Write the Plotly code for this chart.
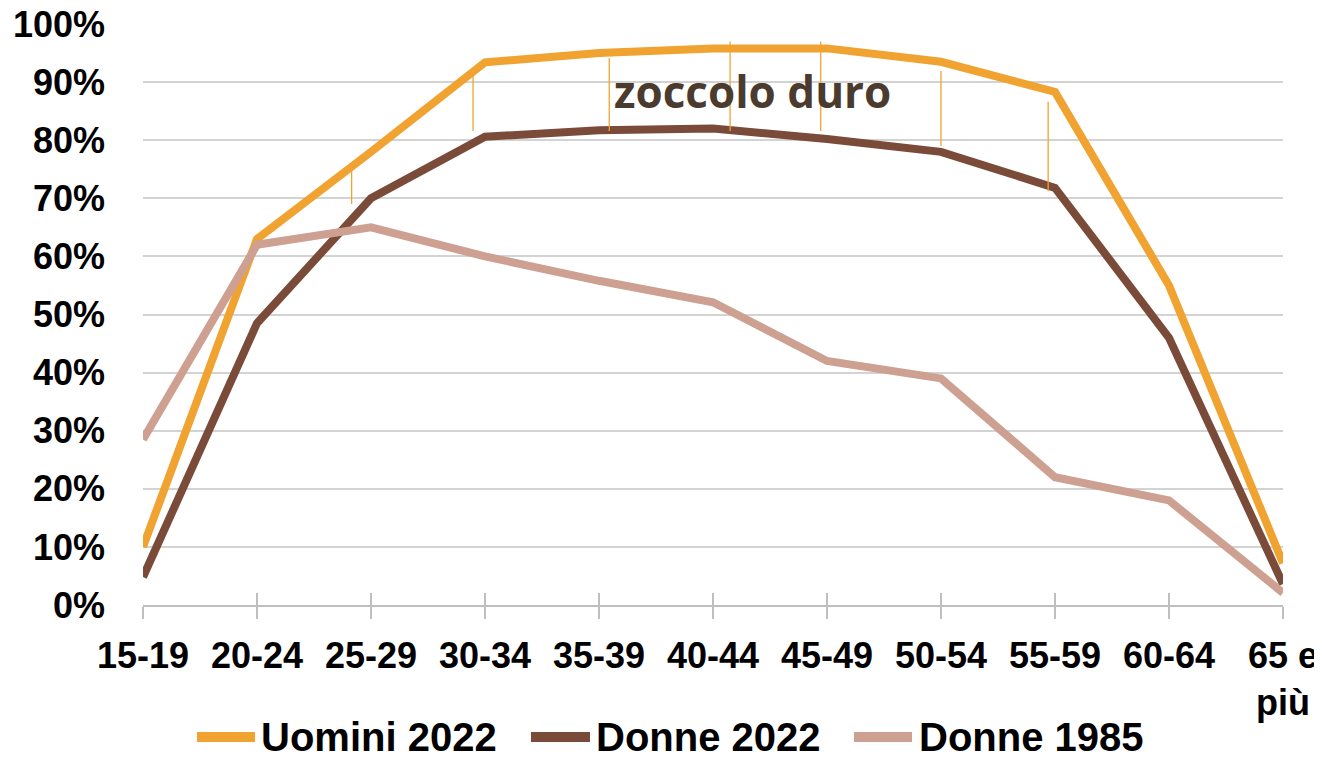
import plotly.graph_objects as go

# age groups and activity rates (%)
age_groups = ["15-19", "20-24", "25-29", "30-34", "35-39", "40-44",
              "45-49", "50-54", "55-59", "60-64", "65 e<br>più"]
uomini_2022 = [10, 63, 78, 93.4, 95, 95.8, 95.8, 93.5, 88.3, 55, 7.2]
donne_2022 = [4.8, 48.5, 70, 80.6, 81.7, 82, 80.2, 78, 71.8, 46, 3.6]
donne_1985 = [28.5, 62, 65, 60, 55.8, 52.1, 42, 39, 22, 18, 2.1]

series_names = ["Uomini 2022", "Donne 2022", "Donne 1985"]
series_colors = ["#F0A330", "#7B4B3A", "#CDA091"]

# thin "zoccolo duro" markers (position on the age axis, top, bottom in %)
seg_pos = [1.83, 2.895, 4.09, 5.15, 5.945, 7.0, 7.94]
seg_top = [75.2, 91.0, 94.1, 97.0, 97.0, 91.9, 86.6]
seg_bottom = [69.0, 81.6, 81.6, 81.6, 81.6, 79.0, 71.2]

FONT = "Liberation Sans, Arial, sans-serif"

# the page body has an 8px margin, so the figure is drawn smaller
OFF = 8
W, H = 1322 - OFF, 760 - OFF
# plot area in page pixels (from the reference)
L, R, T, B = 143, 1283, 24, 605


def px(x):
    return (x - L) / (R - L)


def py(y):
    return (B - y) / (B - T)


fig = go.Figure()

for name, vals, col in zip(series_names, [uomini_2022, donne_2022, donne_1985], series_colors):
    fig.add_trace(go.Scatter(x=age_groups, y=vals, name=name, mode="lines",
                             line=dict(color=col, width=8), showlegend=False))

seg_x, seg_y = [], []
for p, t, b in zip(seg_pos, seg_top, seg_bottom):
    seg_x += [p, p, None]
    seg_y += [t, b, None]
fig.add_trace(go.Scatter(x=seg_x, y=seg_y, mode="lines", xaxis="x2",
                         line=dict(color="#F0A330", width=1.3),
                         hoverinfo="skip", showlegend=False))

# legend drawn by hand so the sample lines are long like the original
leg_line = [(197, 255), (531, 590), (854, 912)]
leg_text = [259, 594, 917]
leg_y = 737
shapes = []
annotations = []
for (x0, x1), tx, name, col in zip(leg_line, leg_text, series_names, series_colors):
    shapes.append(dict(type="line", xref="paper", yref="paper",
                       x0=px(x0), x1=px(x1), y0=py(leg_y), y1=py(leg_y),
                       line=dict(color=col, width=10)))
    annotations.append(dict(xref="paper", yref="paper", x=px(tx), y=py(leg_y),
                            xanchor="left", yanchor="middle", showarrow=False,
                            text=name, font=dict(family=FONT, size=40, color="#000000", weight="bold")))

annotations.append(dict(xref="paper", yref="paper", x=px(752), y=py(91),
                        xanchor="center", yanchor="middle", showarrow=False,
                        text="zoccolo duro",
                        font=dict(family="Open Sans", size=44, color="#4B3B2F", weight="bold")))

fig.update_layout(
    width=W, height=H,
    margin=dict(l=L - OFF, r=1322 - R, t=T - OFF, b=H - (B - OFF)),
    plot_bgcolor="white", paper_bgcolor="white",
    shapes=shapes, annotations=annotations,
    xaxis=dict(type="category", range=[0, 10], showgrid=False, zeroline=False,
               automargin=False, ticklabeloverflow="allow",
               showline=True, linecolor="#BFBFBF", linewidth=1.5,
               ticks="outside", ticklen=12, tickwidth=1.5, tickcolor="#BFBFBF",
               ticklabelstandoff=6,
               tickfont=dict(family=FONT, size=36, color="#000000", weight="bold")),
    xaxis2=dict(overlaying="x", anchor="y", range=[0, 10], tickmode="linear",
                tick0=0, dtick=1, ticks="inside", ticklen=12, tickwidth=1.5,
                tickcolor="#BFBFBF", showticklabels=False, showgrid=False,
                zeroline=False, showline=False, automargin=False),
    yaxis=dict(range=[0, 100], tickmode="linear", tick0=0, dtick=10, ticksuffix="%",
               automargin=False, ticklabeloverflow="allow",
               showgrid=True, gridcolor="#D3D3D3", gridwidth=1.5, zeroline=False,
               showline=False, ticks="", ticklabelstandoff=37,
               tickfont=dict(family=FONT, size=36, color="#000000", weight="bold")),
)

fig.write_html("out.html")
